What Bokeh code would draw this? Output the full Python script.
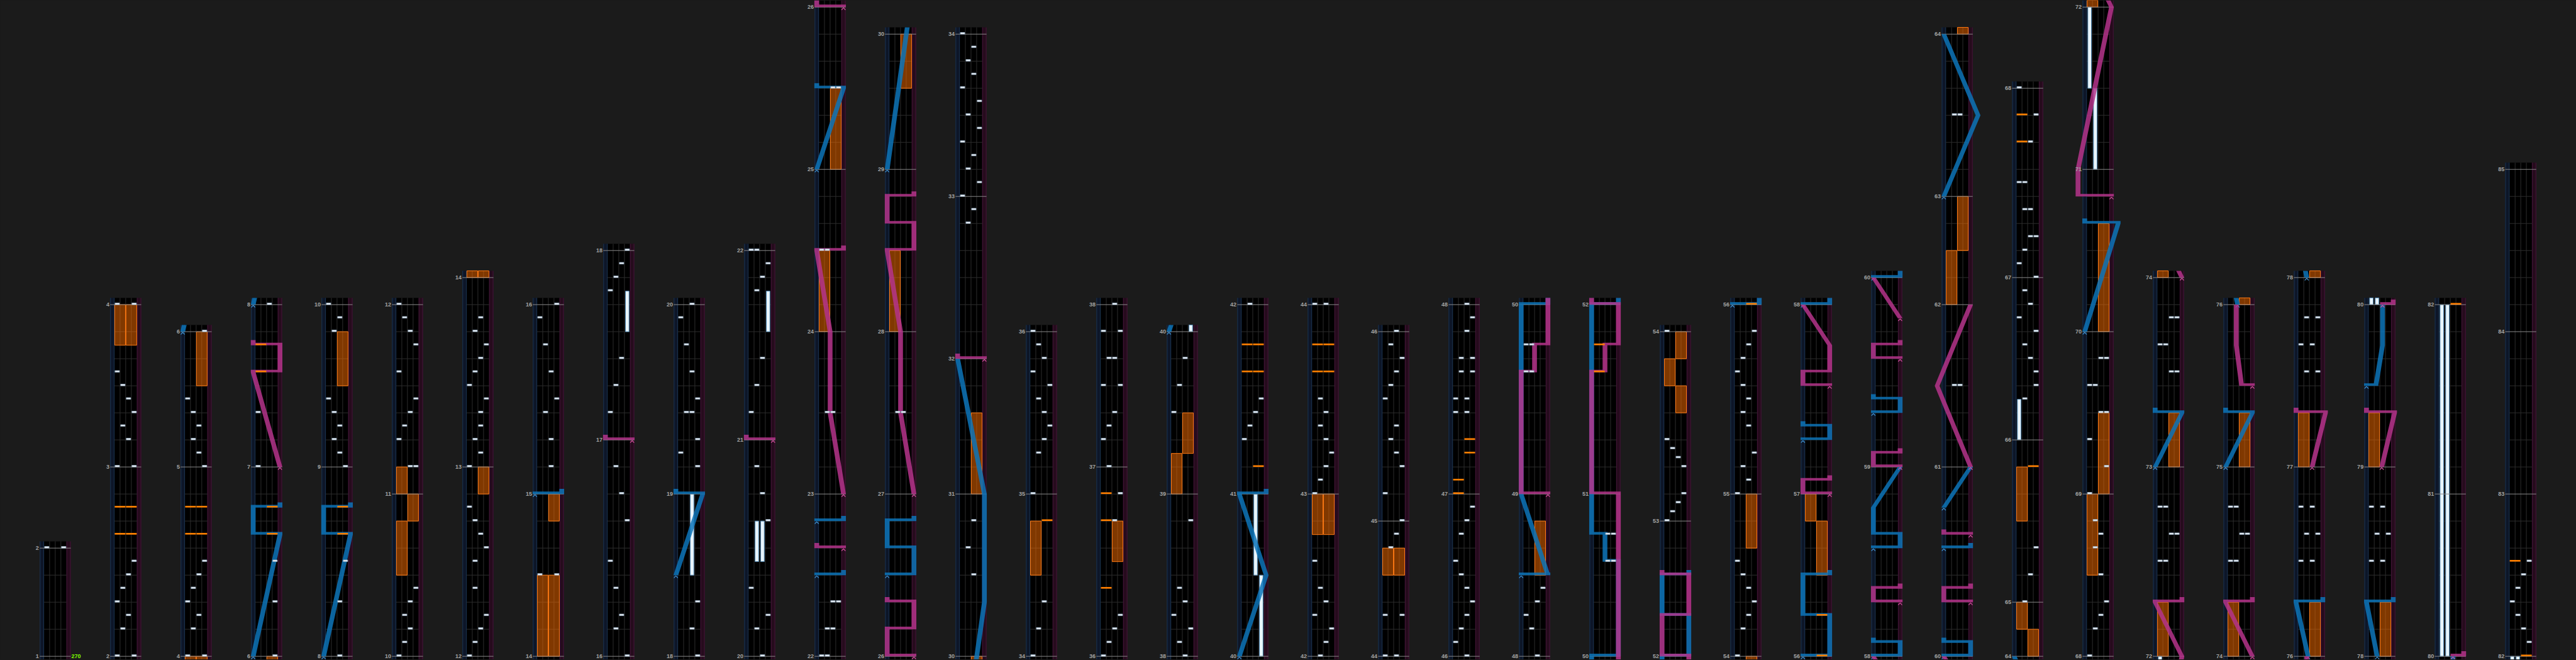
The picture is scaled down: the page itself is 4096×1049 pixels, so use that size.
from bokeh.plotting import figure
from bokeh.models import Range1d
from bokeh.embed import file_html
from bokeh.resources import INLINE
from bokeh.core.properties import value

# ---------------------------------------------------------------- data
# beats in each measure (measure 1 .. 84)
MEASURE_BEATS = [4, 7, 6, 7, 5, 7, 6, 7, 6, 6, 7, 7, 7, 6, 7, 8, 7, 6, 7, 8, 7,
                 6, 6, 6, 6, 6, 6, 6, 5, 6, 5, 6, 6,
                 6, 6, 7, 6, 6, 6, 6, 7, 6, 7, 5, 7, 6, 7, 6, 7, 6, 7, 5, 7,
                 6, 7, 6, 7, 7, 7,
                 7, 6, 4, 6, 2, 6, 6, 7, 6, 6, 6, 6,
                 7, 7, 7, 6, 7, 7, 7, 6, 6, 7, 6, 6, 6]
# number of measures shown in each column (left to right)
COLUMN_MEASURES = [1, 2, 2, 2, 2, 2, 2, 2, 2, 2, 2, 4, 4, 4, 2, 2, 2, 2, 2, 2,
                   2, 2, 2, 2, 2, 2, 2, 4, 4, 4, 2, 2, 2, 2, 2, 3]
BPM_TEXT = "270"

# (measure, beat, lanes)
BT_CHIPS = [
    (2, 0, "AD"), (2, 1, "B"), (2, 1.5, "C"), (2, 2, "A"), (2, 2.5, "B"), (2, 3, "C"), (2, 3.5, "D"),
    (3, 0, "AD"), (3, 1, "C"), (3, 1.5, "B"), (3, 2, "D"), (3, 2.5, "C"), (3, 3, "B"), (3, 3.5, "A"),
    (4, 0, "AD"), (4, 1, "B"), (4, 1.5, "C"), (4, 2, "A"), (4, 2.5, "B"), (4, 3, "C"), (4, 3.5, "D"),
    (5, 0, "D"), (5, 0.5, "C"), (5, 1, "B"), (5, 1.5, "C"), (5, 2, "B"), (5, 2.5, "A"),
    (6, 0, "D"), (6, 2, "D"), (6, 3.5, "D"),
    (7, 0, "A"), (7, 2, "A"),
    (8, 0, "C"), (8, 2, "C"), (8, 3.5, "D"),
    (9, 0, "D"), (9, 0.5, "C"), (9, 1, "B"), (9, 1.5, "C"), (9, 2, "B"), (9, 2.5, "A"), (9, 5, "B"), (9, 5.5, "C"),
    (10, 0, "A"), (10, 0.5, "B"), (10, 1, "C"), (10, 1.5, "B"), (10, 2, "C"), (10, 2.5, "D"),
    (11, 1, "CD"), (11, 2, "A"), (11, 2.5, "B"), (11, 3, "C"), (11, 3.5, "D"), (11, 4.5, "A"), (11, 5.5, "D"),
    (11, 6, "C"), (11, 6.5, "B"),
    (12, 0, "A"), (12, 0.5, "B"), (12, 1, "C"), (12, 1.5, "D"), (12, 2.5, "B"), (12, 3.5, "B"), (12, 4, "D"),
    (12, 4.5, "C"), (12, 5, "B"), (12, 5.5, "A"),
    (13, 0, "A"), (13, 0.5, "C"), (13, 1, "B"), (13, 1.5, "C"), (13, 2, "C"), (13, 2.5, "D"), (13, 3, "A"),
    (13, 3.5, "B"), (13, 4, "C"), (13, 4.5, "D"), (13, 5, "B"), (13, 5.5, "C"),
    (14, 3, "AD"),
    (15, 1, "C"), (15, 2, "C"), (15, 3, "B"), (15, 3.5, "D"), (15, 4.5, "C"), (15, 5.5, "B"), (15, 6.5, "A"),
    (16, 0, "D"), (16, 1, "B"), (16, 1.5, "C"), (16, 2.5, "B"), (16, 3.5, "A"), (16, 5, "D"), (16, 6, "C"), (16, 7, "B"),
    (17, 1, "A"), (17, 2, "B"), (17, 3, "C"), (17, 5.5, "A"), (17, 6, "B"), (17, 6.5, "C"),
    (18, 0, "D"), (18, 1, "C"), (18, 2, "D"),
    (19, 1, "D"), (19, 1.5, "A"), (19, 2, "D"), (19, 3, "BC"), (19, 3.5, "D"), (19, 4.5, "C"), (19, 5.5, "B"), (19, 6.5, "A"),
    (20, 0, "C"), (20, 1, "B"), (20, 1.5, "D"), (20, 2.5, "A"), (20, 5, "D"), (20, 6, "C"), (20, 7, "B"),
    (21, 1, "A"), (21, 2, "B"), (21, 3, "C"), (21, 5.5, "B"), (21, 6, "C"), (21, 6.5, "D"),
    (22, 0, "AB"), (22, 1, "BC"), (22, 2, "CD"),
    (23, 3, "BC"), (24, 3, "AB"), (25, 3, "CD"), (27, 3, "BC"),
    (30, 3, "C"), (30, 4, "B"), (30, 5, "C"),
    (32, 5, "B"), (32, 5.5, "C"),
    (33, 0, "A"), (33, 0.5, "D"), (33, 1, "B"), (33, 1.5, "C"), (33, 2, "A"), (33, 2.5, "D"), (33, 3, "B"),
    (33, 3.5, "D"), (33, 4, "A"), (33, 4.5, "C"), (33, 5, "B"), (33, 5.5, "C"),
    (34, 0, "A"), (34, 1, "B"), (34, 2, "C"),
    (35, 0, "A"), (35, 1.5, "B"), (35, 2, "C"), (35, 2.5, "D"), (35, 3, "C"), (35, 3.5, "B"), (35, 4, "D"),
    (35, 4.5, "A"), (35, 5, "C"), (35, 5.5, "B"),
    (36, 0, "A"), (36, 0.5, "B"), (36, 1, "C"), (36, 1.5, "D"), (36, 5, "C"), (36, 6, "D"),
    (37, 0, "B"), (37, 1, "A"), (37, 1.5, "B"), (37, 2, "C"), (37, 3, "AD"), (37, 4, "BC"), (37, 5, "AD"),
    (38, 0, "C"), (38, 0.5, "B"), (38, 1, "D"), (38, 1.5, "A"), (38, 2, "C"), (38, 2.5, "B"), (38, 5, "D"),
    (39, 3, "A"), (39, 4, "B"), (39, 5, "C"),
    (41, 2, "A"), (41, 2.5, "B"), (41, 3, "C"), (41, 3.5, "D"),
    (42, 0, "B"), (42, 0.5, "C"), (42, 1, "D"), (42, 1.5, "A"), (42, 2, "C"), (42, 2.5, "B"), (42, 3.5, "A"),
    (43, 0, "A"), (43, 0.5, "B"), (43, 1, "C"), (43, 1.5, "D"), (43, 2, "C"), (43, 2.5, "B"), (43, 3, "C"), (43, 3.5, "B"),
    (44, 0, "AC"), (44, 1.5, "AD"), (44, 4, "B"), (44, 4.5, "C"),
    (45, 0, "D"), (45, 1, "A"), (45, 2, "D"), (45, 2.5, "C"), (45, 3, "B"), (45, 3.5, "C"), (45, 4.5, "A"),
    (45, 5, "B"), (45, 5.5, "C"), (45, 6, "D"), (45, 6.5, "B"),
    (46, 0, "C"), (46, 0.5, "A"), (46, 1, "B"), (46, 1.5, "C"), (46, 2, "D"), (46, 2.5, "C"), (46, 3, "B"),
    (46, 3.5, "A"), (46, 4.5, "B"), (46, 5, "C"), (46, 5.5, "D"),
    (47, 3, "AC"), (47, 3.5, "AC"), (47, 4.5, "BD"), (47, 5, "BD"), (47, 6, "C"), (47, 6.5, "D"),
    (48, 0, "C"), (48, 1, "B"), (48, 1.5, "A"), (48, 2, "C"), (48, 2.5, "D"),
    (49, 4.5, "AB"), (49, 5.5, "AB"),
    (50, 3.5, "CD"), (50, 4.5, "CD"),
    (53, 0, "A"), (53, 0.333, "B"), (53, 0.667, "C"), (53, 1, "D"), (53, 2, "D"), (53, 2.333, "C"),
    (53, 2.667, "B"), (53, 3, "A"),
    (54, 0, "A"), (54, 1, "B"), (54, 1.5, "C"), (54, 2, "D"), (54, 2.5, "C"), (54, 3, "B"), (54, 3.5, "A"),
    (55, 0, "A"), (55, 0.5, "C"), (55, 1, "B"), (55, 1.5, "D"), (55, 2.5, "C"), (55, 3, "B"), (55, 3.5, "C"),
    (55, 4, "B"), (55, 4.5, "A"), (55, 5, "B"), (55, 5.5, "C"), (55, 6, "D"),
    (61, 3, "BC"), (63, 3, "BC"),
    (65, 0, "B"), (65, 1, "C"), (65, 2, "D"),
    (66, 1.5, "B"), (66, 2, "D"), (66, 2.5, "D"), (66, 3, "C"), (66, 3.5, "B"), (66, 4, "D"), (66, 4.5, "A"),
    (66, 5, "C"), (66, 5.5, "B"),
    (67, 0, "D"), (67, 0.5, "A"), (67, 1, "B"), (67, 1.5, "CD"), (67, 2.5, "BC"), (67, 3.5, "AB"), (67, 5, "C"), (67, 6, "D"),
    (68, 0, "A"), (68, 1, "B"), (68, 1.5, "C"), (68, 2, "D"), (68, 3, "C"), (68, 4, "B"), (68, 4.5, "C"), (68, 5, "B"),
    (69, 0, "A"), (69, 1, "D"), (69, 2, "A"), (69, 3, "CD"), (69, 4, "AB"), (69, 5, "CD"),
    (72, 3.5, "AB"), (72, 4.5, "CD"), (72, 5.5, "AB"),
    (73, 3.5, "CD"), (73, 4.5, "AB"), (73, 5.5, "CD"),
    (74, 3.5, "AB"), (74, 4.5, "CD"), (74, 5.5, "AB"),
    (76, 3.5, "AC"), (76, 4.5, "BD"), (76, 5.5, "AC"),
    (77, 3.5, "BD"), (77, 4.5, "AC"), (77, 5.5, "BD"),
    (78, 3.5, "AC"), (78, 4.5, "BD"), (78, 5.5, "AC"),
    (82, 0.5, "D"), (82, 1, "C"), (82, 1.5, "B"), (82, 2, "A"), (82, 2.5, "B"), (82, 3, "C"), (82, 3.5, "D"),
]

# (measure, beat, side)
FX_CHIPS = [
    (2, 4.5, "LR"), (2, 5.5, "LR"), (4, 4.5, "LR"), (4, 5.5, "LR"), (6, 4.5, "R"), (6, 5.5, "R"),
    (7, 3.5, "L"), (7, 4.5, "L"), (8, 4.5, "R"), (8, 5.5, "R"),
    (34, 5, "R"), (36, 2.5, "L"), (36, 5, "L"), (36, 6, "L"),
    (41, 1, "R"), (41, 4.5, "LR"), (41, 5.5, "LR"), (43, 4.5, "LR"), (43, 5.5, "LR"),
    (47, 0, "L"), (47, 0.5, "L"), (47, 1.5, "R"), (47, 2, "R"),
    (51, 4.5, "L"), (51, 5.5, "L"), (56, 0, "R"), (56, 1.5, "R"),
    (65, 5, "R"), (67, 5, "L"), (67, 6, "L"), (82, 0, "R"), (82, 3.5, "L"),
]

# (measure, beat, length in beats, side)
FX_HOLDS = [
    (3, 4.5, 1.5, "LR"), (5, 3, 2, "R"), (9, 3, 2, "R"), (10, 3, 2, "L"), (10, 5, 1, "R"), (11, 0, 1, "L"),
    (12, 6, 1, "R"), (14, 0, 3, "LR"), (14, 5, 1, "R"),
    (24, 0, 3, "L"), (25, 0, 3, "R"), (28, 0, 3, "L"), (29, 3, 2, "R"), (31, 0, 3, "R"),
    (34, 3, 2, "L"), (36, 3.5, 1.5, "R"), (39, 0, 1.5, "L"), (39, 1.5, 1.5, "R"), (42, 4.5, 1.5, "LR"),
    (44, 3, 1, "LR"), (48, 3, 2, "R"),
    (53, 4, 1, "R"), (53, 5, 1, "L"), (53, 6, 1, "R"), (54, 4, 2, "R"), (56, 3, 2, "R"), (56, 5, 1, "L"),
    (62, 0, 2, "L"), (62, 2, 2, "R"), (64, 0, 1, "R"), (64, 1, 1, "L"), (65, 3, 2, "L"),
    (68, 3, 3, "L"), (69, 0, 3, "R"), (70, 0, 4, "R"),
    (72, 0, 2, "L"), (73, 0, 2, "R"), (74, 0, 2, "L"), (75, 0, 2, "R"),
    (76, 0, 2, "R"), (77, 0, 2, "L"), (78, 0, 2, "R"), (79, 0, 2, "L"),
]

# (measure, beat, length in beats, lane)
BT_HOLDS = [
    (17, 4, 1.5, "D"), (18, 3, 3, "C"), (20, 3.5, 1.5, "B"), (20, 3.5, 1.5, "C"), (21, 4, 1.5, "D"),
    (40, 0, 3, "D"), (40, 3, 3, "C"), (66, 0, 1.5, "A"), (71, 0, 3, "B"), (71, 3, 3, "A"),
    (80, 0, 13, "A"), (80, 0, 13, "B"),
]

# lasers: colour key, then points (measure, beat, position 0 = left .. 1 = right)
LASERS = [
    ("B", [(6, 0, 0), (6, 4.5, 1), (6, 4.5, 0), (6, 5.5, 0), (6, 5.5, 1)]),
    ("M", [(7, 0, 1), (7, 3.5, 0), (7, 3.5, 1), (7, 4.5, 1), (7, 4.5, 0)]),
    ("B", [(8, 0, 0), (8, 4.5, 1), (8, 4.5, 0), (8, 5.5, 0), (8, 5.5, 1)]),
    ("B", [(15, 0, 0), (15, 0, 1)]),
    ("M", [(17, 0, 1), (17, 0, 0)]),
    ("B", [(18, 3, 0), (19, 0, 1), (19, 0, 0)]),
    ("M", [(21, 0, 1), (21, 0, 0)]),
    ("B", [(22, 3, 0), (22, 3, 1)]),
    ("M", [(22, 4, 1), (22, 4, 0)]),
    ("B", [(22, 5, 0), (22, 5, 1)]),
    ("M", [(23, 0, 1), (23, 3, 0.5), (24, 0, 0.5), (24, 3, 0), (24, 3, 1)]),
    ("B", [(25, 0, 0), (25, 3, 1), (25, 3, 0)]),
    ("M", [(26, 0, 1), (26, 0, 0), (26, 1, 0), (26, 1, 1), (26, 2, 1), (26, 2, 0)]),
    ("B", [(26, 3, 0), (26, 3, 1), (26, 4, 1), (26, 4, 0), (26, 5, 0), (26, 5, 1)]),
    ("M", [(27, 0, 1), (27, 3, 0.5), (28, 0, 0.5), (28, 3, 0), (28, 3, 1), (28, 4, 1), (28, 4, 0),
           (28, 5, 0), (28, 5, 1)]),
    ("B", [(29, 0, 0), (30, 2, 1), (31, 0, 1), (32, 0, 0)]),
    ("M", [(32, 0, 1), (32, 0, 0)]),
    ("B", [(40, 0, 0), (40, 3, 1), (41, 0, 0), (41, 0, 1)]),
    ("B", [(48, 3, 0), (48, 3, 1), (49, 0, 0), (50, 0, 0), (50, 0, 1), (50, 3.5, 1), (50, 3.5, 0.5),
           (50, 4.5, 0.5), (50, 4.5, 0), (52, 0, 0), (52, 0, 1), (52, 1.5, 1), (52, 1.5, 0), (52, 3, 0),
           (52, 3, 1)]),
    ("M", [(49, 0, 1), (49, 0, 0), (49, 4.5, 0), (49, 4.5, 0.5), (49, 5.5, 0.5), (49, 5.5, 1), (51, 0, 1),
           (51, 0, 0), (51, 4.5, 0), (51, 4.5, 0.5), (51, 5.5, 0.5), (51, 5.5, 1), (52, 0, 1), (52, 0, 0),
           (52, 1.5, 0), (52, 1.5, 1), (52, 3, 1), (52, 3, 0)]),
    ("B", [(56, 0, 0), (56, 0, 1), (56, 1.5, 1), (56, 1.5, 0), (56, 3, 0), (56, 3, 1)]),
    ("M", [(57, 0, 1), (57, 0, 0), (57, 0.5, 0), (57, 0.5, 1)]),
    ("B", [(57, 2, 0), (57, 2, 1), (57, 2.5, 1), (57, 2.5, 0)]),
    ("M", [(57, 4, 1), (57, 4, 0), (57, 4.5, 0), (57, 4.5, 1), (57, 5.5, 1), (58, 0, 0)]),
    ("B", [(58, 0, 0), (58, 0, 1), (58, 0.5, 1), (58, 0.5, 0)]),
    ("M", [(58, 2, 1), (58, 2, 0), (58, 2.5, 0), (58, 2.5, 1)]),
    ("B", [(58, 4, 0), (58, 4, 1), (58, 4.5, 1), (58, 4.5, 0), (58, 5.5, 0), (59, 0, 1)]),
    ("M", [(59, 0, 1), (59, 0, 0), (59, 0.5, 0), (59, 0.5, 1)]),
    ("B", [(59, 2, 0), (59, 2, 1), (59, 2.5, 1), (59, 2.5, 0)]),
    ("M", [(59, 4, 1), (59, 4, 0), (59, 4.5, 0), (59, 4.5, 1)]),
    ("M", [(59, 5.5, 1), (60, 0, 0)]),
    ("B", [(60, 0, 0), (60, 0, 1), (60, 0.5, 1), (60, 0.5, 0)]),
    ("M", [(60, 2, 1), (60, 2, 0), (60, 2.5, 0), (60, 2.5, 1)]),
    ("B", [(60, 4, 0), (60, 4, 1)]),
    ("M", [(60, 4.5, 1), (60, 4.5, 0)]),
    ("B", [(60, 5.5, 0), (61, 0, 1)]),
    ("M", [(61, 0, 1), (61, 3, -0.25), (62, 0, 1)]),
    ("B", [(63, 0, 0), (63, 3, 1.28), (64, 0, 0)]),
    ("B", [(70, 0, 0), (70, 4, 1.25), (70, 4, 0)]),
    ("M", [(70, 5, 1), (70, 5, -0.25), (71, 0, -0.25), (72, 0, 1), (72, 2, 0), (72, 2, 1)]),
    ("B", [(73, 0, 0), (73, 2, 1), (73, 2, 0)]),
    ("M", [(74, 0, 1), (74, 2, 0), (74, 2, 1)]),
    ("B", [(75, 0, 0), (75, 2, 1), (75, 2, 0)]),
    ("M", [(75, 3, 1), (75, 3, 0.6), (75, 4.5, 0.4), (76, 0, 0.4)]),
    ("B", [(76, 0, 0.45), (76, 2, 0), (76, 2, 1)]),
    ("M", [(77, 0, 0.6), (77, 2, 1.1), (77, 2, 0)]),
    ("B", [(78, 0, 0.4), (78, 2, 0), (78, 2, 1)]),
    ("M", [(79, 0, 0.57), (79, 2, 1.05), (79, 2, 0)]),
    ("B", [(79, 3, 0), (79, 3, 0.35), (79, 4.5, 0.6), (80, 0, 0.6)]),
    ("M", [(80, 0, 0.6), (80, 0, 1)]),
]

# ---------------------------------------------------------------- layout / style
REF_W, REF_H = 4570, 1170
SCALE = 0.896
BEAT = 48.0                 # reference pixels per beat
BASE = 1164.0               # reference y of the common baseline
PXB = 1.0 / BEAT            # one reference pixel in beats
X0, PITCH = 70.0, 125.0
STRIP, LANE = 7.5, 10.0
COLW = 2 * STRIP + 4 * LANE
LASER_W, SLAM_H, TAIL_H = 8.5, 4.5, 9.0
CHIP_H = 3.0
LANES = "ABCD"

BG = "#1b1b1b"
LASER_COL = {"B": "#0d74b8", "M": "#b5348b"}
MARK_COL = {"B": "#3f93d4", "M": "#d4529f"}

mstart = {1: 0.0}
for i, nb in enumerate(MEASURE_BEATS):
    mstart[i + 2] = mstart[i + 1] + nb


def gt(m, b):
    return mstart[m] + b


columns = []
m = 1
for k, n in enumerate(COLUMN_MEASURES):
    T0, T1 = mstart[m], mstart[m + n]
    columns.append(dict(L=X0 + k * PITCH, T0=T0, T1=T1, m0=m, m1=m + n,
                        lo=T0 - (REF_H - BASE) * PXB, hi=T1 + 12 * PXB))
    m += n

p = figure(width=round(REF_W * SCALE), height=round(REF_H * SCALE),
           x_range=Range1d(0, REF_W), y_range=Range1d(-(REF_H - BASE) / BEAT, BASE / BEAT),
           output_backend="svg", toolbar_location=None,
           x_axis_location=None, y_axis_location=None, min_border=0)
p.grid.visible = False
p.outline_line_color = None
p.background_fill_color = BG
p.border_fill_color = BG


def quads():
    return dict(left=[], right=[], bottom=[], top=[], color=[])


# ---------------- column backgrounds
bgq = quads()
for c in columns:
    L = c["L"]
    b, t = c["lo"] - c["T0"], c["hi"] - c["T0"]
    for l, r, col in ((L, L + STRIP, "#0d1628"), (L + STRIP, L + COLW - STRIP, "#000000"),
                      (L + COLW - STRIP, L + COLW, "#260b1d")):
        bgq["left"].append(l); bgq["right"].append(r)
        bgq["bottom"].append(b); bgq["top"].append(t); bgq["color"].append(col)
p.quad(left="left", right="right", bottom="bottom", top="top", fill_color="color",
       line_color=None, source=bgq)

# vertical lane lines and strip edges
vx0, vy0, vx1, vy1, vc = [], [], [], [], []
for c in columns:
    L = c["L"]
    b, t = c["lo"] - c["T0"], c["hi"] - c["T0"]
    for x, col in ((L + 0.6, "#1c3552"), (L + STRIP - 0.4, "#1c3552"),
                   (L + COLW - STRIP + 0.4, "#45173a"), (L + COLW - 0.6, "#45173a"),
                   (L + STRIP + LANE, "#2d2d2d"), (L + STRIP + 2 * LANE, "#2d2d2d"),
                   (L + STRIP + 3 * LANE, "#2d2d2d")):
        vx0.append(x); vx1.append(x); vy0.append(b); vy1.append(t); vc.append(col)
p.segment(x0=vx0, y0=vy0, x1=vx1, y1=vy1, line_color=vc, line_width=1)

# beat lines
gx0, gx1, gy = [], [], []
for c in columns:
    for mm in range(c["m0"], c["m1"]):
        for bt in range(1, MEASURE_BEATS[mm - 1]):
            gx0.append(c["L"] + STRIP); gx1.append(c["L"] + COLW - STRIP)
            gy.append(mstart[mm] + bt - c["T0"])
p.segment(x0=gx0, y0=gy, x1=gx1, y1=gy, line_color="#2d2d2d", line_width=1)


def fx_span(L, side):
    out = []
    if "L" in side:
        out.append((L + STRIP + 0.5, L + STRIP + 2 * LANE - 0.5))
    if "R" in side:
        out.append((L + STRIP + 2 * LANE + 0.5, L + COLW - STRIP - 0.5))
    return out


# ---------------- FX holds
fh = quads()
for (mm, bt, ln, side) in FX_HOLDS:
    t0, t1 = gt(mm, bt), gt(mm, bt) + ln
    for c in columns:
        a, b = max(t0, c["lo"]), min(t1, c["hi"])
        if b <= a:
            continue
        for l, r in fx_span(c["L"], side):
            fh["left"].append(l); fh["right"].append(r)
            fh["bottom"].append(a - c["T0"]); fh["top"].append(b - c["T0"]); fh["color"].append("#ff6f00")
p.quad(left="left", right="right", bottom="bottom", top="top", fill_color="color", fill_alpha=0.5,
       line_color="#ff7a14", line_width=1, source=fh)

# ---------------- BT holds
bh = quads()
for (mm, bt, ln, lane) in BT_HOLDS:
    t0, t1 = gt(mm, bt), gt(mm, bt) + ln
    for c in columns:
        a, b = max(t0, c["lo"]), min(t1, c["hi"])
        if b <= a:
            continue
        xc = c["L"] + STRIP + LANE * (LANES.index(lane) + 0.5)
        bh["left"].append(xc - 3.2); bh["right"].append(xc + 3.2)
        bh["bottom"].append(a - c["T0"]); bh["top"].append(b - c["T0"]); bh["color"].append("#e9f5fb")
p.quad(left="left", right="right", bottom="bottom", top="top", fill_color="color",
       line_color="#4f87b3", line_width=1, source=bh)

# ---------------- measure lines and numbers
mx0, mx1, my = [], [], []
lx, ly, lt = [], [], []
for c in columns:
    for mm in range(c["m0"], c["m1"] + 1):
        y = mstart[mm] - c["T0"]
        mx0.append(c["L"]); mx1.append(c["L"] + COLW); my.append(y)
        lx.append(c["L"] - 1.5); ly.append(y); lt.append(str(mm))
p.segment(x0=mx0, y0=my, x1=mx1, y1=my, line_color="#8a8a8a", line_width=1)


# ---------------- lasers
def laser_polys(pts, c):
    L, lo, hi, T0 = c["L"], c["lo"], c["hi"], c["T0"]
    hw = LASER_W / 2

    def X(pos):
        return L + STRIP / 2 + pos * (COLW - STRIP)

    P = [(gt(mm, bt), pos) for (mm, bt, pos) in pts]
    polys = []
    for (t1, p1), (t2, p2) in zip(P[:-1], P[1:]):
        if t2 > t1:
            if t2 < lo or t1 > hi:
                continue
            a, b = max(t1, lo), min(t2, hi)
            pa = p1 + (p2 - p1) * (a - t1) / (t2 - t1)
            pb = p1 + (p2 - p1) * (b - t1) / (t2 - t1)
            xa, xb = X(pa), X(pb)
            polys.append(([xa - hw, xa + hw, xb + hw, xb - hw], [a - T0, a - T0, b - T0, b - T0]))
        elif lo <= t1 <= hi:
            xl, xr = min(X(p1), X(p2)) - hw, max(X(p1), X(p2)) + hw
            ya = t1 - T0
            yb = min(ya + SLAM_H * PXB, hi - T0)
            polys.append(([xl, xr, xr, xl], [ya, ya, yb, yb]))
    if len(P) > 1 and P[-1][0] == P[-2][0] and lo <= P[-1][0] <= hi:
        x = X(P[-1][1]); ya = P[-1][0] - T0
        yb = min(ya + TAIL_H * PXB, hi - T0)
        polys.append(([x - hw, x + hw, x + hw, x - hw], [ya, ya, yb, yb]))
    return polys


for key in ("B", "M"):
    pxs, pys = [], []
    kx, ky = [], []
    for ck, pts in LASERS:
        if ck != key:
            continue
        for c in columns:
            polys = laser_polys(pts, c)
            if polys:
                xs, ys = [], []
                for i, (px_, py_) in enumerate(polys):
                    if i:
                        xs.append(float("nan")); ys.append(float("nan"))
                    xs += px_; ys += py_
                pxs.append(xs); pys.append(ys)
            t0 = gt(pts[0][0], pts[0][1])
            if c["lo"] <= t0 <= c["hi"]:
                x = c["L"] + STRIP / 2 + pts[0][2] * (COLW - STRIP)
                y = t0 - c["T0"]
                kx.append([x - 3.5, x, x + 3.5]); ky.append([y - 5 * PXB, y - 1.2 * PXB, y - 5 * PXB])
    p.patches(xs=pxs, ys=pys, fill_color=LASER_COL[key], fill_alpha=0.85, line_color=None)
    p.multi_line(xs=kx, ys=ky, line_color=MARK_COL[key], line_width=1.2)

# ---------------- chips
fc = quads()
for (mm, bt, side) in FX_CHIPS:
    t = gt(mm, bt)
    for c in columns:
        if c["lo"] <= t <= c["hi"] - CHIP_H * PXB:
            for l, r in fx_span(c["L"], side):
                fc["left"].append(l); fc["right"].append(r)
                fc["bottom"].append(t - c["T0"]); fc["top"].append(t - c["T0"] + CHIP_H * PXB)
                fc["color"].append("#ff7f00")
p.quad(left="left", right="right", bottom="bottom", top="top", fill_color="color",
       line_color=None, source=fc)

bc = quads()
for (mm, bt, lanes) in BT_CHIPS:
    t = gt(mm, bt)
    for c in columns:
        if c["lo"] <= t <= c["hi"] - CHIP_H * PXB:
            for lane in lanes:
                l = c["L"] + STRIP + LANE * LANES.index(lane)
                bc["left"].append(l + 1.0); bc["right"].append(l + LANE - 1.0)
                bc["bottom"].append(t - c["T0"]); bc["top"].append(t - c["T0"] + CHIP_H * PXB)
                bc["color"].append("#eef3f8")
p.quad(left="left", right="right", bottom="bottom", top="top", fill_color="color",
       line_color="#8da4bb", line_width=0.8, source=bc)

# ---------------- texts
p.text(x=lx, y=ly, text=lt, text_font=value("Liberation Sans"), text_font_style="bold",
       text_font_size="9px", text_color="#a3a3a3", text_align="right", text_baseline="alphabetic")
p.text(x=[columns[0]["L"] + COLW + 1.0], y=[0.0], text=[BPM_TEXT], text_font=value("Liberation Sans"),
       text_font_style="bold", text_font_size="9px", text_color="#7fff00", text_align="left",
       text_baseline="alphabetic")

TEMPLATE = """
{% block preamble %}
<style>html, body { margin: 0 !important; padding: 0 !important; background: #1b1b1b; overflow: hidden; }</style>
{% endblock %}
{% block postamble %}
<style>html, body { margin: 0 !important; padding: 0 !important; background: #1b1b1b; overflow: hidden; }</style>
{% endblock %}
"""

html = file_html(p, INLINE, title="chart", template=TEMPLATE)
with open("out.html", "w") as f:
    f.write(html)
